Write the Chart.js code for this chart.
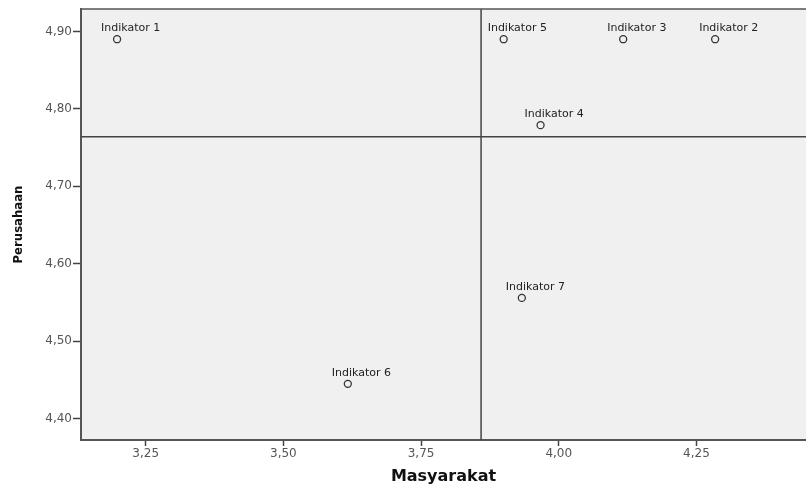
<!doctype html>
<html lang="id">
<head>
<meta charset="utf-8">
<title>Masyarakat vs Perusahaan</title>
<script src="https://cdn.jsdelivr.net/npm/chart.js"></script>
<style>
    html, body { margin: 0; padding: 0; background: #ffffff; overflow: hidden; }
    #wrap { width: 806px; height: 488px; }
    canvas { display: block; }
</style>
</head>
<body>
<div id="wrap"><canvas id="chart" width="806" height="488"></canvas></div>
<script>
    // Data
    const indicatorNames = ['Indikator 1', 'Indikator 2', 'Indikator 3', 'Indikator 4', 'Indikator 5', 'Indikator 6', 'Indikator 7'];
    const masyarakat = [3.198, 4.284, 4.117, 3.967, 3.900, 3.617, 3.933];
    const perusahaan = [4.890, 4.890, 4.890, 4.779, 4.890, 4.445, 4.556];

    // reference lines (quadrant split)
    const refX = 3.859;
    const refY = 4.764;

    // axes
    const xTicks = [3.25, 3.50, 3.75, 4.00, 4.25];
    const yTicks = [4.40, 4.50, 4.60, 4.70, 4.80, 4.90];
    const xRange = [3.1325, 4.449];
    const yRange = [4.3725, 4.929];

    const points = masyarakat.map((v, i) => ({ x: v, y: perusahaan[i] }));
    const fmt = v => v.toFixed(2).replace('.', ',');

    // plot background, top border and point labels
    const plotDecor = {
        id: 'plotDecor',
        beforeDraw(chart) {
            const { ctx, chartArea: a } = chart;
            ctx.save();
            ctx.fillStyle = '#f0f0f0';
            ctx.fillRect(a.left, a.top, a.right - a.left, a.bottom - a.top);
            ctx.restore();
        },
        afterDraw(chart) {
            const { ctx, chartArea: a } = chart;
            ctx.save();
            ctx.strokeStyle = '#555';
            ctx.lineWidth = 1.5;
            ctx.beginPath();
            ctx.moveTo(a.left, a.top);
            ctx.lineTo(a.right, a.top);
            ctx.stroke();

            ctx.fillStyle = '#222';
            ctx.font = '11px "DejaVu Sans"';
            ctx.textAlign = 'left';
            ctx.textBaseline = 'alphabetic';
            chart.getDatasetMeta(0).data.forEach((el, i) => {
                ctx.fillText(indicatorNames[i], el.x - 16, el.y - 8);
            });
            ctx.restore();
        }
    };

    new Chart(document.getElementById('chart'), {
        type: 'scatter',
        data: {
            datasets: [
                {
                    data: points,
                    pointRadius: 3.5,
                    pointHoverRadius: 3.5,
                    pointBorderColor: '#333',
                    pointBorderWidth: 1.3,
                    pointBackgroundColor: 'rgba(0,0,0,0)'
                },
                {
                    data: [{ x: refX, y: yRange[0] }, { x: refX, y: yRange[1] }],
                    showLine: true,
                    borderColor: '#444',
                    borderWidth: 1.5,
                    pointRadius: 0
                },
                {
                    data: [{ x: xRange[0], y: refY }, { x: xRange[1], y: refY }],
                    showLine: true,
                    borderColor: '#444',
                    borderWidth: 1.5,
                    pointRadius: 0
                }
            ]
        },
        options: {
            responsive: false,
            animation: false,
            layout: { autoPadding: false, padding: { top: 9, right: 0, left: 0, bottom: 0 } },
            plugins: {
                legend: { display: false },
                tooltip: { enabled: false }
            },
            scales: {
                x: {
                    type: 'linear',
                    min: xRange[0],
                    max: xRange[1],
                    afterBuildTicks: s => { s.ticks = xTicks.map(v => ({ value: v })); },
                    afterFit: s => { s.height = 48; s.paddingLeft = 0; s.paddingRight = 0; },
                    grid: { display: true, drawOnChartArea: false, drawTicks: true, tickLength: 6, tickWidth: 1.5, color: '#444' },
                    border: { display: true, color: '#555', width: 2 },
                    ticks: {
                        color: '#555',
                        font: { family: 'DejaVu Sans', size: 12 },
                        padding: 1,
                        maxRotation: 0,
                        callback: v => fmt(v)
                    },
                    title: {
                        display: true,
                        text: 'Masyarakat',
                        color: '#111',
                        font: { family: 'DejaVu Sans', size: 16, weight: 'bold' },
                        padding: { top: 2, bottom: 2 }
                    }
                },
                y: {
                    type: 'linear',
                    min: yRange[0],
                    max: yRange[1],
                    afterBuildTicks: s => { s.ticks = yTicks.map(v => ({ value: v })); },
                    afterFit: s => { s.width = 81; },
                    grid: { display: true, drawOnChartArea: false, drawTicks: true, tickLength: 8, tickWidth: 1.5, color: '#444' },
                    border: { display: true, color: '#555', width: 2 },
                    ticks: {
                        color: '#555',
                        font: { family: 'DejaVu Sans', size: 12 },
                        padding: 1,
                        callback: v => fmt(v)
                    },
                    title: {
                        display: true,
                        text: 'Perusahaan',
                        color: '#111',
                        font: { family: 'DejaVu Sans Condensed', size: 13, weight: 'bold' },
                        padding: { top: 11, bottom: 0 }
                    }
                }
            }
        },
        plugins: [plotDecor]
    });
</script>
</body>
</html>
